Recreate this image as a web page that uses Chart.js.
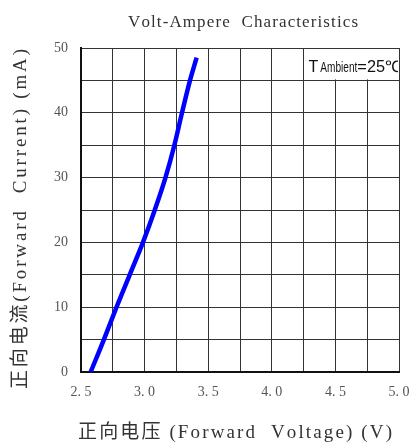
<!DOCTYPE html>
<html><head><meta charset="utf-8">
<script src="https://cdn.jsdelivr.net/npm/chart.js@4"></script>
<style>html,body{margin:0;padding:0;background:#fff}#wrap{width:412px;height:443px;position:relative}</style>
</head><body><div id="wrap"><canvas id="c"></canvas></div>
<script>
const voltage = [2.576, 2.68, 2.779, 2.883, 2.987, 3.08, 3.164, 3.234, 3.294, 3.357, 3.409];
const current = [0, 5, 10, 15, 20, 25, 30, 35, 40, 45, 48.5];
const xTickValues = [2.5, 3.0, 3.5, 4.0, 4.5, 5.0];
const xTickLabels = ['2. 5', '3. 0', '3. 5', '4. 0', '4. 5', '5. 0'];
const yTickValues = [0, 10, 20, 30, 40, 50];
const yTickLabels = ['0', '10', '20', '30', '40', '50'];
const titleText = 'Volt-Ampere  Characteristics';
const xTitle = '正向电压 (Forward  Voltage) (V)';
const yTitle = '正向电流(Forward  Current) (mA)';
const noteParts = ['T', 'Ambient', '=25℃'];

const SERIF = "'Liberation Serif', 'DejaVu Serif', 'Noto Sans CJK SC', serif";
const SANS = "'Liberation Sans', Arial, sans-serif";

function labelFor(values, labels, v) {
  const i = values.findIndex(t => Math.abs(t - v) < 1e-6);
  return i >= 0 ? labels[i] : '';
}

// draws text spread to a given total width, starting at x (baseline y)
function drawSpaced(ctx, text, x, y, width) {
  const chars = Array.from(text);
  const ws = chars.map(c => ctx.measureText(c).width);
  const total = ws.reduce((a, b) => a + b, 0);
  const gap = (width - total) / (chars.length - 1);
  let px = x;
  chars.forEach((c, i) => { ctx.fillText(c, px, y); px += ws[i] + gap; });
}

const textPlugin = {
  id: 'texts',
  afterDraw(chart) {
    const {ctx} = chart;
    ctx.save();
    ctx.textAlign = 'left';
    ctx.textBaseline = 'alphabetic';
    ctx.fillStyle = '#333';
    ctx.font = '17px ' + SERIF;
    drawSpaced(ctx, titleText, 128, 26.5, 230);
    ctx.font = '19px ' + SERIF;
    drawSpaced(ctx, xTitle, 78, 438, 314);
    ctx.save();
    ctx.translate(25.5, 389);
    ctx.rotate(-Math.PI / 2);
    drawSpaced(ctx, yTitle, 0, 0, 340);
    ctx.restore();
    ctx.restore();
  }
};

const notePlugin = {
  id: 'note',
  afterDatasetsDraw(chart) {
    const {ctx, scales: {x, y}} = chart;
    const x0 = x.getPixelForValue(4.25), x1 = x.getPixelForValue(5.0);
    const y0 = y.getPixelForValue(50), y1 = y.getPixelForValue(45);
    ctx.save();
    ctx.fillStyle = '#fff';
    ctx.fillRect(x0 + 1, y0 + 1, x1 - x0 - 2, y1 - y0 - 2);
    ctx.beginPath();
    ctx.rect(x0 + 1, y0 + 1, x1 - x0 - 2, y1 - y0 - 2);
    ctx.clip();
    ctx.fillStyle = '#111';
    ctx.textBaseline = 'alphabetic';
    ctx.textAlign = 'left';
    const base = y0 + (y1 - y0) * 0.75;
    let cx = x0 + 5;
    ctx.font = '16px ' + SANS;
    ctx.fillText(noteParts[0], cx, base);
    cx += ctx.measureText(noteParts[0]).width + 2;
    ctx.font = '14px ' + SANS;
    const w = ctx.measureText(noteParts[1]).width;
    ctx.save();
    ctx.translate(cx, base);
    ctx.scale(37 / w, 1);
    ctx.fillText(noteParts[1], 0, 0);
    ctx.restore();
    cx += 37;
    ctx.font = '16px ' + SANS;
    const w2 = ctx.measureText(noteParts[2]).width;
    ctx.save();
    ctx.translate(cx, base);
    ctx.scale(44 / w2, 1);
    ctx.fillText(noteParts[2], 0, 0);
    ctx.restore();
    ctx.restore();
  }
};

new Chart(document.getElementById('c'), {
  type: 'scatter',
  data: {
    datasets: [{
      data: voltage.map((v, i) => ({x: v, y: current[i]})),
      showLine: true,
      borderColor: '#0000ff',
      borderWidth: 4.5,
      pointRadius: 0,
      cubicInterpolationMode: 'monotone',
      borderCapStyle: 'butt',
      fill: false
    }]
  },
  options: {
    responsive: true,
    maintainAspectRatio: false,
    animation: false,
    layout: {padding: {top: 48, right: 13, bottom: 0, left: 0}},
    plugins: {
      legend: {display: false},
      tooltip: {enabled: false},
      title: {display: false}
    },
    scales: {
      x: {
        type: 'linear',
        min: 2.5, max: 5.0,
        afterBuildTicks(s) {
          const t = [];
          for (let i = 0; i <= 10; i++) t.push({value: 2.5 + i * 0.25});
          s.ticks = t;
        },
        afterFit(s) { s.height = 71; s.paddingRight = 0; s.paddingLeft = 0; },
        ticks: {
          autoSkip: false, maxRotation: 0, padding: 12,
          color: '#555',
          font: {family: SERIF, size: 14},
          callback: v => labelFor(xTickValues, xTickLabels, v)
        },
        grid: {color: '#333', lineWidth: 1, drawTicks: false},
        border: {color: '#111', width: 2}
      },
      y: {
        type: 'linear',
        min: 0, max: 50,
        afterBuildTicks(s) {
          const t = [];
          for (let i = 0; i <= 10; i++) t.push({value: i * 5});
          s.ticks = t;
        },
        afterFit(s) { s.width = 81; },
        ticks: {
          autoSkip: false, padding: 13,
          color: '#555',
          font: {family: SERIF, size: 14},
          callback: v => labelFor(yTickValues, yTickLabels, v)
        },
        grid: {color: '#333', lineWidth: 1, drawTicks: false},
        border: {color: '#111', width: 2}
      }
    }
  },
  plugins: [notePlugin, textPlugin]
});
</script>
</body></html>
